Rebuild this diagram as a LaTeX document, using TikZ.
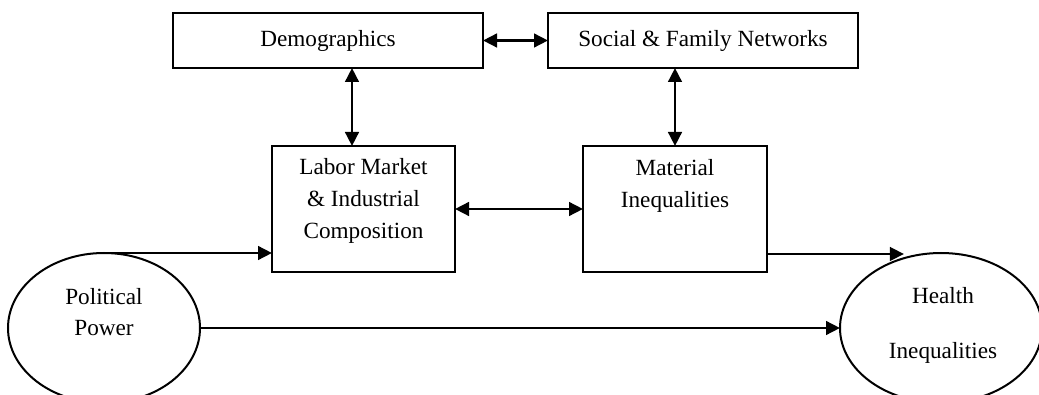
\documentclass[tikz,border=0pt]{standalone}
\usepackage{fontspec}
\setmainfont{Liberation Serif}
\usetikzlibrary{shapes.geometric,arrows.meta,calc}
\begin{document}
\begin{tikzpicture}[x=0.5pt,y=-0.5pt,
  every node/.style={font=\fontsize{11.6pt}{15.8pt}\selectfont},
  box/.style={draw,line width=1.1pt,rectangle,inner sep=0pt,outer sep=0pt},
  oval/.style={draw,line width=1pt,ellipse,inner sep=0pt,outer sep=0pt},
  txt/.style={align=center,inner sep=0pt},
  arr/.style={line width=1.3pt,-{Triangle[length=7pt,width=6.8pt]}},
  dbl/.style={line width=1.3pt,{Triangle[length=7pt,width=6.8pt]}-{Triangle[length=7pt,width=6.8pt]}}]
\useasboundingbox (0,0) rectangle (1039,395);
\clip (0,0) rectangle (1039,395);

% top row
\node[box,minimum width=155pt,minimum height=27.5pt] (demo) at (328,40.5) {Demographics};
\node[box,minimum width=155pt,minimum height=27.5pt] (social) at (703,40.5) {Social \& Family Networks};

% middle row
\node[box,minimum width=91.5pt,minimum height=63pt] (labor) at (363.5,209) {};
\node[txt] (laborT) at (363.5,201) {Labor Market\\\& Industrial\\Composition};
\node[box,minimum width=92pt,minimum height=63pt] (mat) at (675,209) {};
\node[txt] (matT) at (675,186) {Material\\Inequalities};

% outcome ellipses
\node[oval,minimum width=96pt,minimum height=75pt] (pol) at (104,328) {};
\node[txt] (polT) at (104,312) {Political\\Power};
\node[oval,minimum width=101pt,minimum height=75pt] (health) at (941,328) {};
\node[txt] (healthT) at (943,325) {Health\\[11.7pt]Inequalities};

% connectors
\draw[dbl] (demo.east) -- (social.west);
\draw[dbl] ([xshift=-5.75pt]labor.north |- demo.south) -- ([xshift=-5.75pt]labor.north);
\draw[dbl] (mat.north |- social.south) -- (mat.north);
\draw[dbl] (labor.east) -- (mat.west);
\draw[arr] (pol.north) -- (pol.north -| labor.west);
\coordinate (mout) at ([yshift=9pt]mat.south east);
\draw[arr] (mout) -- (mout -| health.118);
\draw[arr] (pol.east) -- (health.west);
\end{tikzpicture}
\end{document}
